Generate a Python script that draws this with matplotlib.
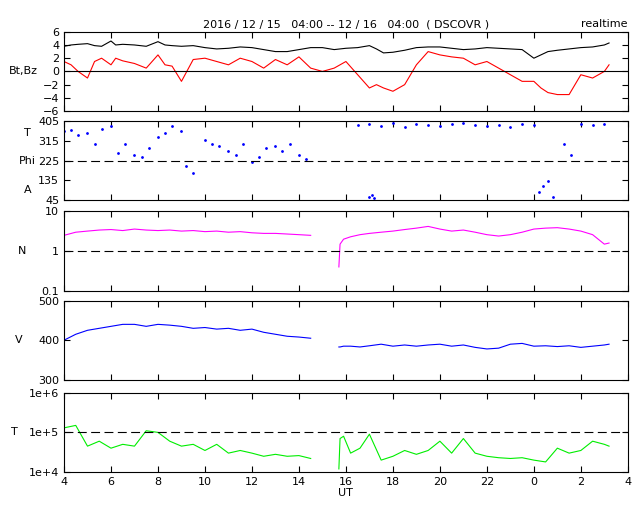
import matplotlib
matplotlib.use("Agg")
import matplotlib.pyplot as plt
import numpy as np

t_b = [4.0,4.3,4.6,5.0,5.3,5.6,6.0,6.2,6.5,7.0,7.5,8.0,8.3,8.6,9.0,9.5,10.0,10.5,11.0,11.5,12.0,12.5,13.0,13.5,14.0,14.5,15.0,15.5,16.0,16.5,17.0,17.3,17.6,18.0,18.5,19.0,19.5,20.0,20.5,21.0,21.5,22.0,22.5,23.0,23.5,24.0,24.3,24.6,25.0,25.5,26.0,26.5,27.0,27.2]
bt  = [3.8,4.0,4.1,4.2,3.9,3.8,4.6,4.0,4.1,4.0,3.8,4.5,4.0,3.9,3.8,3.9,3.6,3.4,3.5,3.7,3.6,3.3,3.0,3.0,3.3,3.6,3.6,3.3,3.5,3.6,3.9,3.4,2.8,2.9,3.2,3.6,3.7,3.7,3.5,3.3,3.4,3.6,3.5,3.4,3.3,2.0,2.5,3.0,3.2,3.4,3.6,3.7,4.0,4.3]
bz  = [1.5,1.0,0.0,-1.0,1.5,2.0,1.0,2.0,1.6,1.2,0.5,2.5,1.0,0.8,-1.5,1.8,2.0,1.5,1.0,2.0,1.5,0.5,1.8,1.0,2.2,0.5,0.0,0.5,1.5,-0.5,-2.5,-2.0,-2.5,-3.0,-2.0,1.0,3.0,2.5,2.2,2.0,1.0,1.5,0.5,-0.5,-1.5,-1.5,-2.5,-3.2,-3.5,-3.5,-0.5,-1.0,0.0,1.0]

t_p = [4.0,4.3,4.6,5.0,5.3,5.6,6.0,6.3,6.6,7.0,7.3,7.6,8.0,8.3,8.6,9.0,9.2,9.5,10.0,10.3,10.6,11.0,11.3,11.6,12.0,12.3,12.6,13.0,13.3,13.6,14.0,14.3,16.5,17.0,17.5,18.0,18.5,19.0,19.5,20.0,20.5,21.0,21.5,22.0,22.5,23.0,23.5,24.0,25.3,25.6,26.0,26.5,27.0]
phi = [360,365,340,350,300,370,380,260,300,250,240,280,330,350,380,360,200,170,320,300,290,270,250,300,220,240,280,290,270,300,250,230,385,390,380,395,375,390,385,380,390,395,385,380,385,375,390,385,300,250,390,385,390]
t_pl = [17.0,17.1,17.2,24.2,24.4,24.6,24.8]
phi_l = [60,70,55,80,110,130,60]

t_n = [4.0,4.5,5.0,5.5,6.0,6.5,7.0,7.5,8.0,8.5,9.0,9.5,10.0,10.5,11.0,11.5,12.0,12.5,13.0,13.5,14.0,14.5,None,15.7,15.75,15.9,16.2,16.6,17.0,17.5,18.0,18.5,19.0,19.5,20.0,20.5,21.0,21.5,22.0,22.5,23.0,23.5,24.0,24.5,25.0,25.5,26.0,26.5,27.0,27.2]
dens = [2.5,3.0,3.2,3.4,3.5,3.3,3.6,3.4,3.3,3.4,3.2,3.3,3.1,3.2,3.0,3.1,2.9,2.8,2.8,2.7,2.6,2.5,None,0.4,1.5,2.0,2.3,2.6,2.8,3.0,3.2,3.5,3.8,4.2,3.6,3.2,3.4,3.0,2.6,2.4,2.6,3.0,3.6,3.8,3.9,3.6,3.2,2.6,1.5,1.6]
vel = [400,415,425,430,435,440,440,435,440,438,435,430,432,428,430,425,428,420,415,410,408,405,None,383,383,385,385,383,386,390,385,388,385,388,390,385,388,382,378,380,390,392,385,386,384,386,382,385,388,390]
temp = [1.3e5,1.5e5,4.5e4,6e4,4e4,5e4,4.5e4,1.1e5,1.0e5,6e4,4.5e4,5e4,3.5e4,5e4,3e4,3.5e4,3e4,2.5e4,2.8e4,2.5e4,2.6e4,2.2e4,None,1.2e4,7e4,8e4,3e4,4e4,9e4,2e4,2.5e4,3.5e4,2.8e4,3.5e4,6e4,3e4,7e4,3e4,2.5e4,2.3e4,2.2e4,2.3e4,2e4,1.8e4,4e4,3e4,3.5e4,6e4,5e4,4.5e4]

def arr(a):
    return np.array([np.nan if v is None else v for v in a], dtype=float)

plt.rcParams['font.size'] = 8
fig = plt.figure(figsize=(6.4, 5.12), dpi=100)
L, W, H = 0.1, 0.881, 0.155
bots = [0.783, 0.609, 0.432, 0.258, 0.078]
axs = [fig.add_axes([L, b, W, H]) for b in bots]
xt = [4,6,8,10,12,14,16,18,20,22,24,26,28]
xl = ['4','6','8','10','12','14','16','18','20','22','0','2','4']
for ax in axs:
    ax.set_xlim(4, 28)
    ax.set_xticks(xt)
    ax.set_xticklabels([])
    ax.tick_params(direction='in', top=True, right=True, length=4, labelsize=8)
axs[-1].set_xticklabels(xl)
axs[-1].set_xlabel('UT', labelpad=1)

a = axs[0]
a.plot(t_b, bt, color='black', lw=0.8)
a.plot(t_b, bz, color='red', lw=0.8)
a.axhline(0, color='black', lw=0.8)
a.set_ylim(-6, 6); a.set_yticks(range(-6, 7, 2))
a.set_ylabel('Bt,Bz', rotation=0, labelpad=14, va='center')
a.set_title('2016 / 12 / 15   04:00 -- 12 / 16   04:00  ( DSCOVR )', fontsize=8, pad=3)
a.text(1.0, 1.03, 'realtime', transform=a.transAxes, ha='right', va='bottom', fontsize=8)

a = axs[1]
a.plot(t_p, phi, '.', color='blue', ms=2)
a.plot(t_pl, phi_l, '.', color='blue', ms=2)
a.axhline(225, color='black', lw=0.8, ls=(0, (8, 4)))
a.set_ylim(45, 405); a.set_yticks([45,135,225,315,405])
for y, s in [(315, 'T'), (225, 'Phi'), (135, 'A')]:
    a.text(-0.065, (y-45)/360 + (0.1 if s=='T' else (-0.12 if s=='A' else 0)), s, transform=a.transAxes, ha='center', va='center')

a = axs[2]
a.plot(t_n, arr(dens), color='magenta', lw=0.8)
a.set_yscale('log'); a.set_ylim(0.1, 10)
a.set_yticks([0.1, 1, 10]); a.set_yticklabels(['0.1', '1', '10'])
a.minorticks_off()
a.axhline(1, color='black', lw=0.8, ls=(0, (8, 4)))
a.set_ylabel('N', rotation=0, labelpad=14, va='center')

a = axs[3]
a.plot(t_n, arr(vel), color='blue', lw=0.8)
a.set_ylim(300, 500); a.set_yticks([300, 400, 500])
a.set_ylabel('V', rotation=0, labelpad=14, va='center')

a = axs[4]
a.plot(t_n, arr(temp), color='#00ee00', lw=0.8)
a.set_yscale('log'); a.set_ylim(1e4, 1e6)
a.set_yticks([1e4, 1e5, 1e6]); a.set_yticklabels(['1e+4', '1e+5', '1e+6'])
a.minorticks_off()
a.axhline(1e5, color='black', lw=0.8, ls=(0, (8, 4)))
a.set_ylabel('T', rotation=0, labelpad=10, va='center')

fig.savefig('out.png', dpi=100)
